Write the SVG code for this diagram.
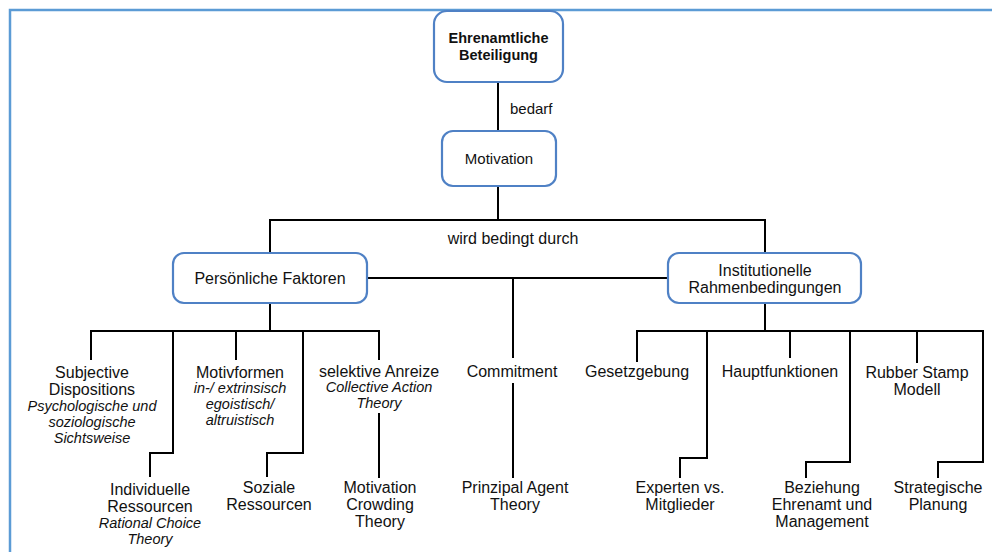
<svg xmlns="http://www.w3.org/2000/svg" width="992" height="552" viewBox="0 0 992 552">
<style>
.node rect{fill:#fff;stroke:#4F81C5;stroke-width:2.2}
text{font-family:"Liberation Sans",Arial,sans-serif;font-size:16px;fill:#111;text-anchor:middle}
.b{font-weight:bold;font-size:14.5px}
.i{font-style:italic;font-size:14.5px}
.conn path{fill:none;stroke:#000;stroke-width:2}
</style>
<rect width="992" height="552" fill="#fff"/>
<path d="M10 560 V10 H1000" fill="none" stroke="#5B9BD5" stroke-width="2.5"/>
<g class="conn">
<path d="M498 82 V131"/>
<path d="M498 186 V220"/>
<path d="M270 253 V220 H765 V253"/>
<path d="M367 278 H668"/>
<path d="M513 278 V358"/>
<path d="M513 383 V478"/>
<path d="M270 303 V331"/>
<path d="M91 360 V331 H379 V360"/>
<path d="M236 331 V360"/>
<path d="M173 331 V453 H150 V477"/>
<path d="M303 331 V453 H267 V477"/>
<path d="M379 413 V478"/>
<path d="M765 303 V331"/>
<path d="M637 362 V331 H983 V462 H938 V478"/>
<path d="M707 331 V458 H680 V478"/>
<path d="M790 331 V358"/>
<path d="M850 331 V462 H806 V478"/>
<path d="M917 331 V363"/>
</g>
<g class="conn-labels">
<text x="510" y="114" style="text-anchor:start;font-size:15px">bedarf</text>
<text x="513" y="244">wird bedingt durch</text>
</g>
<g id="n-ehrenamt" class="node"><rect x="434" y="11" width="129" height="71" rx="13"/><text class="b" x="498.5" y="43">Ehrenamtliche</text><text class="b" x="498.5" y="60">Beteiligung</text></g>
<g id="n-motivation" class="node"><rect x="442" y="131" width="114" height="55" rx="11"/><text x="499" y="164" style="font-size:15px">Motivation</text></g>
<g id="n-pers" class="node"><rect x="173" y="253" width="194" height="50" rx="11"/><text x="270" y="284">Persönliche Faktoren</text></g>
<g id="n-inst" class="node"><rect x="668" y="253" width="193" height="50" rx="11"/><text x="765" y="276">Institutionelle</text><text x="765" y="293">Rahmenbedingungen</text></g>
<g id="n-subj"><text x="92" y="378">Subjective</text><text x="92" y="395">Dispositions</text><text class="i" x="92" y="411">Psychologische und</text><text class="i" x="92" y="427">soziologische</text><text class="i" x="92" y="443">Sichtsweise</text></g>
<g id="n-indiv"><text x="150" y="495">Individuelle</text><text x="150" y="512">Ressourcen</text><text class="i" x="150" y="528">Rational Choice</text><text class="i" x="150" y="544">Theory</text></g>
<g id="n-motivf"><text x="240" y="378">Motivformen</text><text class="i" x="240" y="393">in-/ extrinsisch</text><text class="i" x="240" y="409">egoistisch/</text><text class="i" x="240" y="425">altruistisch</text></g>
<g id="n-sozial"><text x="269" y="493">Soziale</text><text x="269" y="510">Ressourcen</text></g>
<g id="n-selektiv"><text x="379" y="377">selektive Anreize</text><text class="i" x="379" y="392">Collective Action</text><text class="i" x="379" y="408">Theory</text></g>
<g id="n-crowding"><text x="380" y="493">Motivation</text><text x="380" y="510">Crowding</text><text x="380" y="527">Theory</text></g>
<g id="n-commit"><text x="512" y="377">Commitment</text></g>
<g id="n-prinzipal"><text x="515" y="493">Prinzipal Agent</text><text x="515" y="510">Theory</text></g>
<g id="n-gesetz"><text x="637" y="377">Gesetzgebung</text></g>
<g id="n-experten"><text x="680" y="493">Experten vs.</text><text x="680" y="510">Mitglieder</text></g>
<g id="n-haupt"><text x="780" y="377">Hauptfunktionen</text></g>
<g id="n-beziehung"><text x="822" y="493">Beziehung</text><text x="822" y="510">Ehrenamt und</text><text x="822" y="527">Management</text></g>
<g id="n-rubber"><text x="917" y="378">Rubber Stamp</text><text x="917" y="395">Modell</text></g>
<g id="n-strateg"><text x="938" y="493">Strategische</text><text x="938" y="510">Planung</text></g>
</svg>
